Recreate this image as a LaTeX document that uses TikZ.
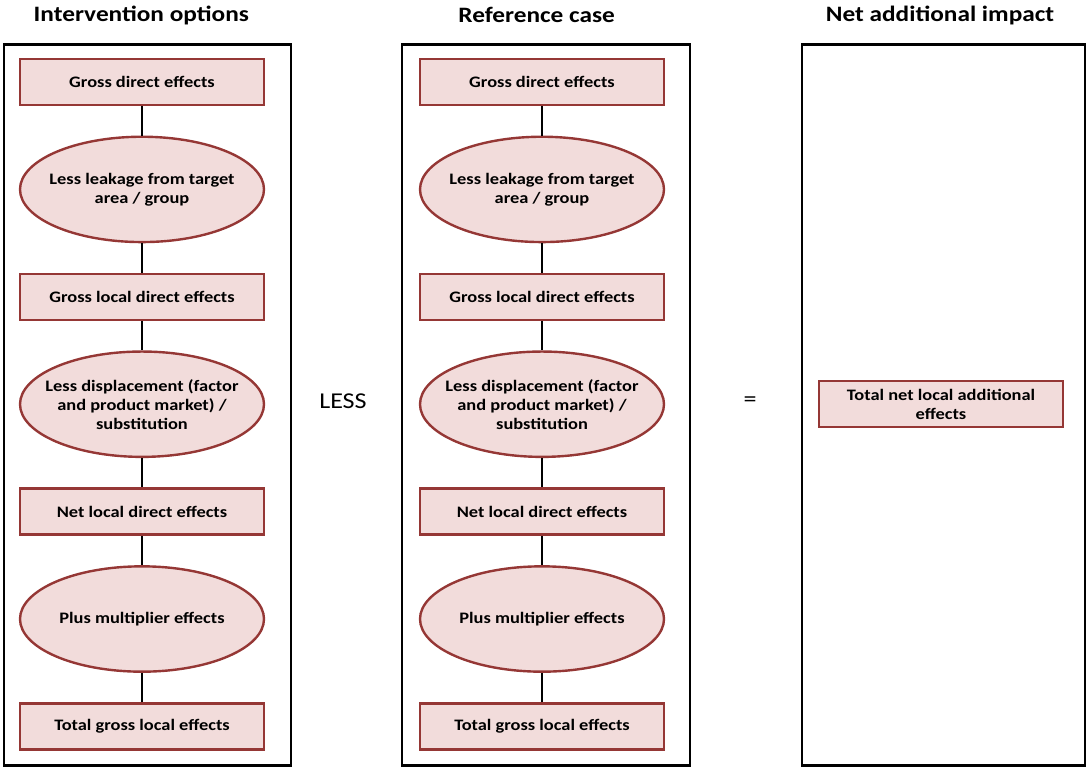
\documentclass[tikz,border=0pt]{standalone}
\usepackage{fontspec}
\setmainfont[FakeStretch=1.15]{Carlito}
\usetikzlibrary{positioning,shapes.geometric}
\definecolor{boxfill}{HTML}{F2DCDB}
\definecolor{boxline}{HTML}{953735}

\begin{document}
\begin{tikzpicture}[
		font=\bfseries\fontsize{12}{14.25}\selectfont,
		node distance=22pt,
		frame/.style={draw, line width=2.2pt, minimum height=540.75pt},
		effect/.style={draw=boxline, fill=boxfill, line width=1.8pt, align=center,
				minimum width=183pt, minimum height=34.5pt, inner sep=2pt},
		adjust/.style={effect, ellipse, minimum height=79pt, inner xsep=-12pt,
				inner ysep=0pt},
		title/.style={font=\bfseries\fontsize{16.5}{19}\selectfont},
		op/.style={font=\fontsize{17}{19}\selectfont},
		link/.style={line width=1.5pt}
		]
		\useasboundingbox (0,0) rectangle (816pt,-576pt);
		% column frames
		\node[frame, minimum width=215.25pt] (optframe) at (110.6pt,-303.4pt) {};
		\node[frame, minimum width=216pt] (refframe) at (409.5pt,-303.4pt) {};
		\node[frame, minimum width=212.25pt] (netframe) at (707.6pt,-303.4pt) {};
		% titles
		\node[title] (opttitle) at (106pt,-11.5pt) {Intervention options};
		\node[title] (reftitle) at (402.5pt,-11.5pt) {Reference case};
		\node[title] (nettitle) at (705pt,-11.5pt) {Net additional impact};
		% intervention options chain
		\node[effect] (optgross) at (106.5pt,-61.5pt) {Gross direct effects};
		\node[adjust, below=of optgross] (optleak) {Less leakage from target\\ area / group};
		\node[effect, below=of optleak] (optlocal) {Gross local direct effects};
		\node[adjust, below=of optlocal] (optdisp)
		{Less displacement (factor\\ and product market) /\\ substitution};
		\node[effect, below=of optdisp] (optnet) {Net local direct effects};
		\node[adjust, below=of optnet] (optmult) {Plus multiplier effects};
		\node[effect, below=of optmult] (opttotal) {Total gross local effects};
		% reference case chain
		\node[effect] (refgross) at (406.5pt,-61.5pt) {Gross direct effects};
		\node[adjust, below=of refgross] (refleak) {Less leakage from target\\ area / group};
		\node[effect, below=of refleak] (reflocal) {Gross local direct effects};
		\node[adjust, below=of reflocal] (refdisp)
		{Less displacement (factor\\ and product market) /\\ substitution};
		\node[effect, below=of refdisp] (refnet) {Net local direct effects};
		\node[adjust, below=of refnet] (refmult) {Plus multiplier effects};
		\node[effect, below=of refmult] (reftotal) {Total gross local effects};
		% result
		\node[effect] (nettotal) at (705.75pt,-303pt) {Total net local additional\\ effects};
		% operators
		\node[op] (less) at (257.25pt,-300.75pt) {LESS};
		\node[op] (equals) at (562.5pt,-301.5pt) {=};
		% links
		\draw[link] (optgross) -- (optleak);
		\draw[link] (optleak) -- (optlocal);
		\draw[link] (optlocal) -- (optdisp);
		\draw[link] (optdisp) -- (optnet);
		\draw[link] (optnet) -- (optmult);
		\draw[link] (optmult) -- (opttotal);
		\draw[link] (refgross) -- (refleak);
		\draw[link] (refleak) -- (reflocal);
		\draw[link] (reflocal) -- (refdisp);
		\draw[link] (refdisp) -- (refnet);
		\draw[link] (refnet) -- (refmult);
		\draw[link] (refmult) -- (reftotal);
	\end{tikzpicture}
\end{document}
